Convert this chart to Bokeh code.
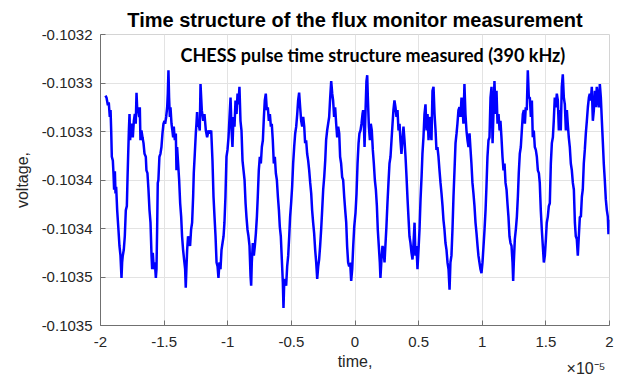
from bokeh.plotting import figure
from bokeh.models import Range1d, FixedTicker, Label, LinearAxis
from bokeh.embed import file_html
from bokeh.resources import INLINE

title_text = "Time structure of the flux monitor measurement"
annotation_text = "CHESS pulse time structure measured (390 kHz)"
x_label = "time,"
y_label = "voltage,"
x_exponent_label = "×10⁻⁵"
x_ticks = [-2, -1.5, -1, -0.5, 0, 0.5, 1, 1.5, 2]
x_tick_labels = ["-2", "-1.5", "-1", "-0.5", "0", "0.5", "1", "1.5", "2"]
y_ticks = [-0.1035, -0.10345, -0.1034, -0.10335, -0.1033, -0.10325, -0.1032]
y_tick_labels = ["-0.1035", "-0.1035", "-0.1034", "-0.1034", "-0.1033", "-0.1033", "-0.1032"]

# time in units of 1e-5 s
time_e5 = [
    -1.961, -1.953, -1.942, -1.935, -1.927, -1.921, -1.916, -1.911, -1.903, -1.898,
    -1.893, -1.887, -1.882, -1.877, -1.869, -1.859, -1.851, -1.843, -1.835, -1.830,
    -1.825, -1.817, -1.809, -1.801, -1.793, -1.788, -1.783, -1.777, -1.772, -1.767,
    -1.762, -1.754, -1.746, -1.738, -1.730, -1.723, -1.717, -1.712, -1.704, -1.696,
    -1.691, -1.686, -1.678, -1.670, -1.662, -1.654, -1.644, -1.639, -1.631, -1.623,
    -1.615, -1.607, -1.599, -1.594, -1.589, -1.581, -1.573, -1.565, -1.560, -1.555,
    -1.550, -1.545, -1.537, -1.529, -1.521, -1.513, -1.505, -1.497, -1.492, -1.484,
    -1.476, -1.471, -1.466, -1.461, -1.455, -1.450, -1.442, -1.435, -1.429, -1.424,
    -1.416, -1.408, -1.403, -1.398, -1.390, -1.382, -1.374, -1.366, -1.359, -1.351,
    -1.343, -1.335, -1.330, -1.325, -1.319, -1.312, -1.304, -1.296, -1.288, -1.280,
    -1.272, -1.267, -1.259, -1.251, -1.246, -1.241, -1.236, -1.228, -1.220,
    -1.214, -1.204, -1.193, -1.183, -1.172, -1.162, -1.151, -1.141, -1.130, -1.120,
    -1.112, -1.104, -1.096, -1.088, -1.080, -1.073, -1.065, -1.057, -1.049, -1.041,
    -1.033, -1.026, -1.018, -1.010, -1.002, -0.994, -0.986, -0.978, -0.970, -0.963,
    -0.955, -0.947, -0.939, -0.931, -0.923, -0.916, -0.908, -0.900, -0.892, -0.884,
    -0.876, -0.868, -0.860, -0.853, -0.845, -0.837, -0.829, -0.821, -0.816, -0.811,
    -0.803, -0.795, -0.787, -0.779, -0.771, -0.764, -0.756, -0.748, -0.740, -0.732,
    -0.724, -0.716, -0.709, -0.701, -0.693, -0.685, -0.677, -0.669, -0.661, -0.654,
    -0.646, -0.638, -0.630, -0.622, -0.614, -0.606, -0.598, -0.591, -0.583, -0.575,
    -0.567, -0.562, -0.557, -0.549, -0.541, -0.533, -0.525, -0.517, -0.510, -0.502,
    -0.494, -0.486, -0.478, -0.470, -0.462, -0.454, -0.447, -0.439, -0.431, -0.423,
    -0.415, -0.407, -0.399, -0.392, -0.384, -0.376, -0.368, -0.360, -0.352, -0.344,
    -0.337, -0.329, -0.321, -0.313, -0.305, -0.297, -0.289, -0.282, -0.274, -0.266,
    -0.258, -0.250, -0.242, -0.234, -0.227, -0.219, -0.211, -0.203, -0.195, -0.187,
    -0.179, -0.172, -0.164, -0.156, -0.148, -0.140, -0.132, -0.124, -0.117, -0.109,
    -0.101, -0.093, -0.085, -0.077, -0.069, -0.062, -0.054, -0.046, -0.038,
    -0.030, -0.022, -0.014, -0.006, 0.004, 0.012, 0.020, 0.028, 0.035, 0.043,
    0.051, 0.059, 0.064, 0.069, 0.075, 0.082, 0.090, 0.096, 0.101, 0.109,
    0.117, 0.124, 0.132, 0.140, 0.148, 0.156, 0.164, 0.172, 0.179, 0.187,
    0.195, 0.200, 0.208, 0.216, 0.224, 0.232, 0.240, 0.247, 0.255, 0.263,
    0.271, 0.279, 0.287, 0.295, 0.302, 0.310, 0.318, 0.326, 0.334, 0.342,
    0.350, 0.357, 0.365, 0.373, 0.381, 0.389, 0.397, 0.405, 0.413, 0.420,
    0.428, 0.436, 0.444, 0.452, 0.460, 0.468, 0.475, 0.483, 0.491, 0.499,
    0.507, 0.515, 0.523, 0.530, 0.538, 0.546, 0.554, 0.562, 0.570, 0.578,
    0.585, 0.593, 0.601, 0.609, 0.617, 0.625, 0.633, 0.640, 0.648, 0.656,
    0.664, 0.672, 0.680, 0.688, 0.695, 0.703, 0.711, 0.719, 0.727, 0.735,
    0.743, 0.750, 0.758, 0.766, 0.774, 0.782, 0.790, 0.798, 0.805, 0.813,
    0.821, 0.829, 0.837, 0.845, 0.852, 0.860, 0.868, 0.876, 0.884, 0.892,
    0.900, 0.908, 0.915, 0.923, 0.931, 0.939, 0.947, 0.955, 0.963, 0.970,
    0.978, 0.986, 0.994, 1.002, 1.010, 1.018, 1.026, 1.033, 1.041, 1.049,
    1.057,
    1.065, 1.073, 1.081, 1.088, 1.096, 1.104, 1.112, 1.120, 1.128, 1.136,
    1.143, 1.151, 1.159, 1.167, 1.175, 1.183, 1.191, 1.198, 1.206, 1.214,
    1.222, 1.230, 1.238, 1.243, 1.248, 1.256, 1.264, 1.272, 1.280, 1.287,
    1.295, 1.303, 1.311, 1.319, 1.327, 1.335, 1.342, 1.350, 1.358, 1.366,
    1.374, 1.382, 1.390, 1.397, 1.405, 1.413, 1.421, 1.429, 1.437, 1.445,
    1.452, 1.460, 1.468, 1.476, 1.484, 1.492, 1.500, 1.507, 1.515, 1.523,
    1.531, 1.539, 1.547, 1.555, 1.562, 1.570, 1.578, 1.586, 1.594, 1.602,
    1.610, 1.617, 1.625, 1.633, 1.641, 1.649, 1.657, 1.665, 1.672, 1.680,
    1.688, 1.696, 1.704, 1.712, 1.720, 1.728, 1.735, 1.743, 1.751, 1.759,
    1.767, 1.775, 1.783, 1.790, 1.798, 1.806, 1.814, 1.822, 1.830, 1.838,
    1.845, 1.853, 1.861, 1.869, 1.877, 1.885, 1.893, 1.900, 1.908, 1.916,
    1.924, 1.932, 1.940, 1.948, 1.955, 1.963, 1.971, 1.979, 1.987, 1.992,
    1.997,
]

voltage = [
    -0.103263, -0.103265, -0.103273, -0.103270, -0.103285, -0.103278, -0.103299, -0.103326, -0.103330, -0.103343,
    -0.103360, -0.103341, -0.103364, -0.103357, -0.103381, -0.103401, -0.103418, -0.103428, -0.103451, -0.103435,
    -0.103428, -0.103422, -0.103408, -0.103381, -0.103377, -0.103350, -0.103326, -0.103299, -0.103282, -0.103309,
    -0.103295, -0.103292, -0.103306, -0.103289, -0.103282, -0.103292, -0.103260, -0.103275, -0.103278, -0.103285,
    -0.103275, -0.103309, -0.103299, -0.103306, -0.103312, -0.103323, -0.103326, -0.103340, -0.103343, -0.103360,
    -0.103381, -0.103394, -0.103428, -0.103442, -0.103425, -0.103442, -0.103435, -0.103451, -0.103442, -0.103401,
    -0.103353, -0.103350, -0.103326, -0.103323, -0.103316, -0.103302, -0.103292, -0.103289, -0.103292, -0.103285,
    -0.103275, -0.103261, -0.103237, -0.103265, -0.103285, -0.103275, -0.103292, -0.103299, -0.103306, -0.103295,
    -0.103309, -0.103302, -0.103340, -0.103316, -0.103333, -0.103350, -0.103374, -0.103388, -0.103408, -0.103422,
    -0.103432, -0.103442, -0.103461, -0.103442, -0.103422, -0.103408, -0.103415, -0.103418, -0.103401, -0.103394,
    -0.103367, -0.103343, -0.103323, -0.103302, -0.103292, -0.103280, -0.103295, -0.103292, -0.103299,
    -0.103251, -0.103278, -0.103289, -0.103282, -0.103299, -0.103306, -0.103299, -0.103302, -0.103299, -0.103330,
    -0.103367, -0.103388, -0.103408, -0.103435, -0.103439, -0.103451, -0.103435, -0.103442, -0.103422, -0.103415,
    -0.103408, -0.103394, -0.103367, -0.103326, -0.103319, -0.103306, -0.103285, -0.103265, -0.103299, -0.103316,
    -0.103285, -0.103295, -0.103268, -0.103282, -0.103261, -0.103272, -0.103254, -0.103289, -0.103299, -0.103330,
    -0.103340, -0.103350, -0.103374, -0.103388, -0.103401, -0.103408, -0.103418, -0.103449, -0.103459, -0.103435,
    -0.103415, -0.103428, -0.103418, -0.103405, -0.103388, -0.103367, -0.103340, -0.103326, -0.103333, -0.103316,
    -0.103309, -0.103285, -0.103268, -0.103261, -0.103278, -0.103275, -0.103289, -0.103282, -0.103295, -0.103292,
    -0.103309, -0.103333, -0.103326, -0.103343, -0.103350, -0.103367, -0.103381, -0.103398, -0.103408, -0.103432,
    -0.103456, -0.103482, -0.103459, -0.103452, -0.103459, -0.103439, -0.103428, -0.103408, -0.103388, -0.103374,
    -0.103357, -0.103333, -0.103316, -0.103302, -0.103295, -0.103282, -0.103268, -0.103260, -0.103275, -0.103289,
    -0.103295, -0.103285, -0.103295, -0.103312, -0.103309, -0.103323, -0.103330, -0.103340, -0.103353, -0.103364,
    -0.103381, -0.103394, -0.103405, -0.103422, -0.103435, -0.103452, -0.103439, -0.103432, -0.103418, -0.103401,
    -0.103381, -0.103360, -0.103347, -0.103330, -0.103309, -0.103299, -0.103292, -0.103285, -0.103265, -0.103248,
    -0.103261, -0.103268, -0.103285, -0.103275, -0.103292, -0.103306, -0.103295, -0.103302, -0.103326, -0.103333,
    -0.103347, -0.103350, -0.103367, -0.103381, -0.103394, -0.103418, -0.103435, -0.103439, -0.103435,
    -0.103454, -0.103442, -0.103418, -0.103398, -0.103384, -0.103364, -0.103333, -0.103312, -0.103302, -0.103299,
    -0.103292, -0.103282, -0.103278, -0.103289, -0.103316, -0.103282, -0.103248, -0.103242, -0.103265, -0.103295,
    -0.103309, -0.103292, -0.103299, -0.103319, -0.103333, -0.103350, -0.103360, -0.103377, -0.103401, -0.103418,
    -0.103435, -0.103451, -0.103432, -0.103418, -0.103422, -0.103435, -0.103415, -0.103398, -0.103374, -0.103353,
    -0.103333, -0.103326, -0.103309, -0.103292, -0.103278, -0.103268, -0.103275, -0.103285, -0.103278, -0.103299,
    -0.103292, -0.103309, -0.103323, -0.103309, -0.103295, -0.103309, -0.103326, -0.103347, -0.103370, -0.103388,
    -0.103408, -0.103415, -0.103425, -0.103432, -0.103415, -0.103394, -0.103428, -0.103418, -0.103442, -0.103422,
    -0.103401, -0.103370, -0.103347, -0.103323, -0.103306, -0.103282, -0.103272, -0.103299, -0.103282, -0.103309,
    -0.103285, -0.103299, -0.103309, -0.103258, -0.103254, -0.103282, -0.103299, -0.103319, -0.103316, -0.103326,
    -0.103340, -0.103353, -0.103364, -0.103377, -0.103391, -0.103401, -0.103415, -0.103422, -0.103435, -0.103442,
    -0.103463, -0.103435, -0.103428, -0.103401, -0.103367, -0.103340, -0.103312, -0.103302, -0.103292, -0.103278,
    -0.103275, -0.103285, -0.103265, -0.103275, -0.103292, -0.103251, -0.103282, -0.103299, -0.103309, -0.103316,
    -0.103302, -0.103319, -0.103333, -0.103353, -0.103364, -0.103377, -0.103394, -0.103405, -0.103418, -0.103428,
    -0.103435, -0.103442, -0.103446, -0.103435, -0.103418, -0.103401, -0.103381, -0.103357, -0.103326, -0.103309,
    -0.103306,
    -0.103265, -0.103254, -0.103312, -0.103282, -0.103248, -0.103282, -0.103258, -0.103292, -0.103282, -0.103299,
    -0.103289, -0.103306, -0.103326, -0.103340, -0.103333, -0.103353, -0.103360, -0.103374, -0.103388, -0.103408,
    -0.103415, -0.103418, -0.103435, -0.103454, -0.103435, -0.103411, -0.103401, -0.103388, -0.103367, -0.103343,
    -0.103323, -0.103316, -0.103299, -0.103282, -0.103278, -0.103292, -0.103275, -0.103278, -0.103237, -0.103265,
    -0.103265, -0.103285, -0.103268, -0.103306, -0.103299, -0.103316, -0.103319, -0.103326, -0.103340, -0.103343,
    -0.103353, -0.103381, -0.103401, -0.103418, -0.103435, -0.103428, -0.103411, -0.103394, -0.103388, -0.103377,
    -0.103374, -0.103333, -0.103312, -0.103306, -0.103289, -0.103265, -0.103275, -0.103261, -0.103268, -0.103299,
    -0.103278, -0.103299, -0.103254, -0.103241, -0.103265, -0.103272, -0.103299, -0.103278, -0.103292, -0.103306,
    -0.103316, -0.103333, -0.103340, -0.103353, -0.103360, -0.103394, -0.103408, -0.103411, -0.103428, -0.103408,
    -0.103388, -0.103388, -0.103367, -0.103360, -0.103333, -0.103319, -0.103302, -0.103289, -0.103275, -0.103265,
    -0.103261, -0.103268, -0.103254, -0.103289, -0.103278, -0.103258, -0.103275, -0.103254, -0.103265, -0.103275,
    -0.103251, -0.103265, -0.103289, -0.103312, -0.103333, -0.103350, -0.103370, -0.103381, -0.103388, -0.103406,
    -0.103391,
]

n = min(len(time_e5), len(voltage))

p = figure(
    width=619, height=380,
    x_range=Range1d(-2, 2), y_range=Range1d(-0.1035, -0.1032),
    output_backend="svg", toolbar_location=None,
    min_border_left=100, min_border_right=10, min_border_top=34, min_border_bottom=55,
    title=title_text,
)
p.background_fill_color = "white"
p.border_fill_color = "white"
p.outline_line_color = "#d4d4d4"
p.outline_line_width = 1

p.title.align = "center"
p.title.text_font = "Liberation Sans"
p.title.text_font_size = "20px"
p.title.text_font_style = "bold"
p.title.text_color = "#000000"
p.title.offset = 0
if "standoff" in p.title.properties():
    p.title.standoff = 7

p.line(time_e5[:n], voltage[:n], line_color="#0000ff", line_width=2.5)

for ax, ticks, labels in ((p.xaxis[0], x_ticks, x_tick_labels), (p.yaxis[0], y_ticks, y_tick_labels)):
    ax.ticker = FixedTicker(ticks=ticks)
    ax.major_label_overrides = {t: l for t, l in zip(ticks, labels)}
    ax.minor_tick_line_color = None
    ax.major_tick_in = 5
    ax.major_tick_out = 0
    ax.axis_line_color = "#707070"
    ax.major_tick_line_color = "#707070"
    ax.major_label_text_font = "Liberation Sans"
    ax.major_label_text_font_size = "15px"
    ax.major_label_text_color = "#262626"
    ax.axis_label_text_font = "Liberation Sans"
    ax.axis_label_text_font_size = "16px"
    ax.axis_label_text_font_style = "normal"
    ax.axis_label_text_color = "#262626"

p.xaxis.axis_label = x_label
p.yaxis.axis_label = y_label
p.xaxis.major_label_standoff = 11
p.yaxis.major_label_standoff = 8
p.xaxis.axis_label_standoff = 3
p.yaxis.axis_label_standoff = 8

p.xgrid.grid_line_color = "#e3e3e3"
p.ygrid.grid_line_color = "#e3e3e3"

# exponent marker of the time axis, drawn as the single tick label of a bare extra axis
exp_pos = 1.815
exp_axis = LinearAxis(
    ticker=FixedTicker(ticks=[exp_pos]),
    major_label_overrides={exp_pos: x_exponent_label},
    axis_line_color=None, major_tick_line_color=None, minor_tick_line_color=None,
    major_tick_in=0, major_tick_out=0, major_label_standoff=-13,
    major_label_text_font="Liberation Sans", major_label_text_font_size="16px",
    major_label_text_color="#262626",
)
p.add_layout(exp_axis, "below")

p.add_layout(Label(x=-1.371, y=-0.1032216, text=annotation_text, text_font="Lato",
                   text_font_size="18px", text_font_style="bold", text_color="#000000",
                   text_baseline="middle"))

open("out.html", "w").write(file_html(p, INLINE))
